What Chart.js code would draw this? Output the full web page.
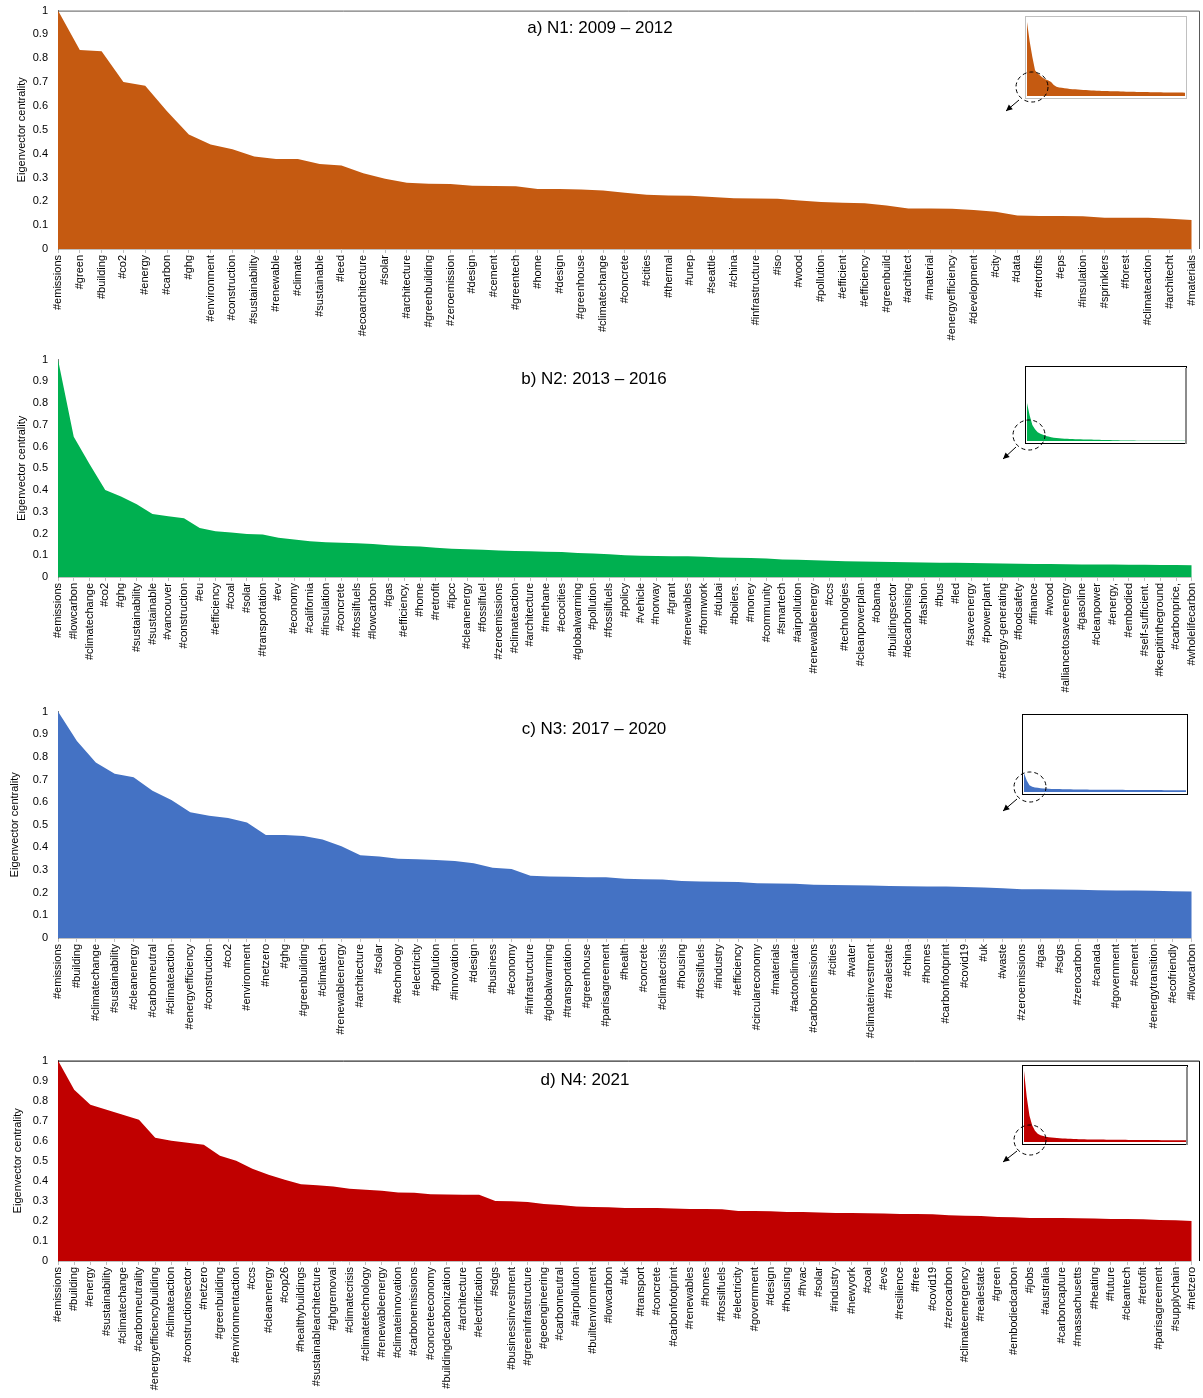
<!DOCTYPE html>
<html><head><meta charset="utf-8">
<script src="https://cdn.jsdelivr.net/npm/chart.js@4"></script>
<style>
body{margin:0;background:#fff;width:1203px;height:1398px;position:relative;overflow:hidden;font-family:'Liberation Sans',Arial,sans-serif}
canvas{position:absolute;left:0}
.t{position:absolute;font-size:17px;color:#000;white-space:nowrap;transform:translate(-50%,-50%)}
</style></head><body>
<canvas id="c1" style="top:-6px" width="1207" height="351"></canvas>
<canvas id="c2" style="top:343px" width="1207" height="362"></canvas>
<canvas id="c3" style="top:695px" width="1207" height="345"></canvas>
<canvas id="c4" style="top:1044px" width="1207" height="354"></canvas>
<canvas id="i1" style="left:1025px;top:16px" width="162" height="83"></canvas>
<canvas id="i2" style="left:1025px;top:366px" width="162" height="78"></canvas>
<canvas id="i3" style="left:1022px;top:714px" width="166" height="81"></canvas>
<canvas id="i4" style="left:1022px;top:1065px" width="166" height="80"></canvas>
<canvas id="ov" style="top:0px" width="1203" height="1398"></canvas>
<div class="t" style="left:600px;top:28px">a) N1: 2009 – 2012</div>
<div class="t" style="left:594px;top:379px">b) N2: 2013 – 2016</div>
<div class="t" style="left:594px;top:729px">c) N3: 2017 – 2020</div>
<div class="t" style="left:585px;top:1080px">d) N4: 2021</div>
<script>
// ---- Data ----
const labelsN1 = ["#emissions","#green","#building","#co2","#energy","#carbon","#ghg","#environment","#construction","#sustainability","#renewable","#climate","#sustainable","#leed","#ecoarchitecture","#solar","#architecture","#greenbuilding","#zeroemission","#design","#cement","#greentech","#home","#design","#greenhouse","#climatechange","#concrete","#cities","#thermal","#unep","#seattle","#china","#infrastructure","#iso","#wood","#pollution","#efficient","#efficiency","#greenbuild","#architect","#material","#energyefficiency","#development","#city","#data","#retrofits","#eps","#insulation","#sprinklers","#forest","#climateaction","#architecht","#materials"];
const valuesN1 = [1.0,0.835,0.83,0.70,0.685,0.578,0.48,0.438,0.418,0.388,0.378,0.377,0.357,0.35,0.318,0.295,0.278,0.274,0.273,0.265,0.264,0.263,0.252,0.252,0.25,0.245,0.236,0.228,0.224,0.223,0.218,0.213,0.212,0.211,0.203,0.197,0.194,0.192,0.182,0.17,0.17,0.169,0.164,0.156,0.14,0.138,0.138,0.137,0.131,0.131,0.131,0.127,0.122];

const labelsN2 = ["#emissions","#lowcarbon","#climatechange","#co2","#ghg","#sustainability","#sustainable","#vancouver","#construction","#eu","#efficiency","#coal","#solar","#transportation","#ev","#economy","#california","#insulation","#concrete","#fossilfuels","#lowcarbon","#gas","#efficiency,","#home","#retrofit","#ipcc","#cleanenergy","#fossilfuel","#zeroemissions","#climateaction","#architecture","#methane","#ecocities","#globalwarming","#pollution","#fossilfuels","#policy","#vehicle","#norway","#grant","#renewables","#formwork","#dubai","#boilers.","#money","#community","#smartech","#airpollution","#renewableenergy","#ccs","#technologies","#cleanpowerplan","#obama","#buildingsector","#decarbonising","#fashion","#bus","#led","#saveenergy","#powerplant","#energy-generating","#foodsafety","#finance","#wood","#alliancetosaveenergy","#gasoline","#cleanpower","#energy,","#embodied","#self-sufficient.","#keepitintheground","#carbonprice,","#wholelifecarbon"];
const valuesN2 = [1.0,0.645,0.52,0.40,0.37,0.335,0.29,0.28,0.27,0.225,0.21,0.205,0.198,0.195,0.18,0.172,0.165,0.16,0.158,0.155,0.152,0.146,0.143,0.14,0.135,0.13,0.128,0.125,0.122,0.12,0.118,0.116,0.115,0.11,0.108,0.105,0.10,0.098,0.097,0.096,0.095,0.093,0.09,0.088,0.087,0.085,0.08,0.079,0.077,0.075,0.072,0.071,0.07,0.069,0.068,0.067,0.066,0.065,0.064,0.063,0.062,0.061,0.06,0.06,0.059,0.058,0.058,0.057,0.056,0.056,0.055,0.055,0.054];

const labelsN3 = ["#emissions","#building","#climatechange","#sustainability","#cleanenergy","#carbonneutral","#climateaction","#energyefficiency","#construction","#co2","#environment","#netzero","#ghg","#greenbuilding","#climatech","#renewableenergy","#architecture","#solar","#technology","#electricity","#pollution","#innovation","#design","#business","#economy","#infrastructure","#globalwarming","#transportation","#greenhouse","#parisagreement","#health","#concrete","#climatecrisis","#housing","#fossilfuels","#industry","#efficiency","#circulareconomy","#materials","#actonclimate","#carbonemissions","#cities","#water","#climateinvestment","#realestate","#china","#homes","#carbonfootprint","#covid19","#uk","#waste","#zeroemissions","#gas","#sdgs","#zerocarbon","#canada","#government","#cement","#energytransition","#ecofriendly","#lowcarbon"];
const valuesN3 = [1.0,0.87,0.775,0.725,0.71,0.65,0.61,0.555,0.54,0.53,0.51,0.455,0.455,0.45,0.435,0.405,0.365,0.36,0.35,0.348,0.345,0.34,0.33,0.31,0.305,0.275,0.272,0.27,0.268,0.268,0.262,0.26,0.258,0.252,0.25,0.248,0.247,0.242,0.241,0.24,0.235,0.234,0.233,0.232,0.23,0.229,0.228,0.227,0.225,0.223,0.22,0.215,0.215,0.214,0.213,0.211,0.21,0.21,0.209,0.207,0.205];

const labelsN4 = ["#emissions","#building","#energy","#sustainability","#climatechange","#carbonneutrality","#energyefficiencybuilding","#climateaction","#constructionsector","#netzero","#greenbuilding","#environmentaction","#ccs","#cleanenergy","#cop26","#healthybuildings","#sustainablearchitecture","#ghgremoval","#climatecrisis","#climatetechnology","#renewableenergy","#climateinnovation","#carbonemissions","#concreteeconomy","#buildingdecarbonization","#architecture","#electrification","#sdgs","#businessinvestment","#greeninfrastructure","#geoengineering","#carbonneutral","#airpollution","#builtenvironment","#lowcarbon","#uk","#transport","#concrete","#carbonfootprint","#renewables","#homes","#fossilfuels","#electricity","#government","#design","#housing","#hvac","#solar","#industry","#newyork","#coal","#evs","#resilience","#free","#covid19","#zerocarbon","#climateemergency","#realestate","#green","#embodiedcarbon","#jobs","#australia","#carboncapture","#massachusetts","#heating","#future","#cleantech","#retrofit","#parisagreement","#supplychain","#netzero"];
const valuesN4 = [1.0,0.855,0.78,0.755,0.73,0.705,0.615,0.60,0.59,0.58,0.525,0.50,0.46,0.43,0.405,0.383,0.378,0.372,0.36,0.355,0.35,0.342,0.34,0.333,0.332,0.33,0.33,0.30,0.298,0.295,0.285,0.28,0.272,0.27,0.268,0.265,0.265,0.264,0.262,0.26,0.26,0.258,0.25,0.25,0.248,0.245,0.245,0.242,0.24,0.24,0.238,0.237,0.235,0.234,0.233,0.228,0.226,0.224,0.22,0.218,0.215,0.215,0.214,0.213,0.212,0.21,0.209,0.208,0.205,0.203,0.2];

const yTicks = [0,0.1,0.2,0.3,0.4,0.5,0.6,0.7,0.8,0.9,1];

// inset full-distribution curves (estimated)
const insetN1 = [0.95,0.7,0.5,0.33,0.29,0.26,0.23,0.21,0.2,0.18,0.14,0.12,0.11,0.105,0.1,0.095,0.09,0.088,0.085,0.082,0.08,0.078,0.076,0.074,0.072,0.07,0.068,0.066,0.065,0.064,0.063,0.062,0.061,0.06,0.06,0.058,0.057,0.056,0.055,0.054,0.053,0.052,0.051,0.05,0.05,0.05,0.049,0.048,0.048,0.047,0.047,0.046,0.046,0.045,0.045,0.045,0.044,0.044,0.044,0.043];
const insetN2 = [0.52,0.35,0.22,0.16,0.12,0.1,0.085,0.07,0.06,0.05,0.045,0.04,0.037,0.034,0.032,0.03,0.028,0.026,0.025,0.024,0.023,0.022,0.021,0.02,0.019,0.018,0.017,0.016,0.015,0.014,0.013,0.012,0.011,0.01,0.009,0.008,0.008,0.007,0.007,0.006,0.006,0.005,0.005,0.005,0.004,0.004,0.004,0.004,0.003,0.003,0.003,0.003,0.003,0.003,0.003,0.003,0.003,0.003,0.003,0.003];
const insetN3 = [0.25,0.15,0.09,0.07,0.06,0.055,0.05,0.047,0.045,0.043,0.041,0.04,0.039,0.038,0.037,0.036,0.035,0.035,0.034,0.034,0.033,0.033,0.032,0.032,0.031,0.031,0.031,0.03,0.03,0.03,0.029,0.029,0.029,0.028,0.028,0.028,0.028,0.027,0.027,0.027,0.027,0.026,0.026,0.026,0.026,0.026,0.025,0.025,0.025,0.025,0.025,0.024,0.024,0.024,0.024,0.024,0.023,0.023,0.023,0.023];
const insetN4 = [0.95,0.6,0.35,0.22,0.15,0.11,0.09,0.08,0.07,0.065,0.06,0.056,0.053,0.05,0.048,0.046,0.044,0.042,0.04,0.039,0.038,0.037,0.036,0.035,0.034,0.034,0.033,0.033,0.032,0.032,0.031,0.031,0.03,0.03,0.03,0.029,0.029,0.029,0.028,0.028,0.028,0.027,0.027,0.027,0.027,0.026,0.026,0.026,0.026,0.026,0.025,0.025,0.025,0.025,0.025,0.025,0.024,0.024,0.024,0.024];

// ---- Charts ----
const FONT = "'Liberation Sans', Arial, sans-serif";
const framePlugin = {
  id: 'frame',
  afterDraw(chart, args, o) {
    if (!o || !o.color) return;
    const {ctx, chartArea: a} = chart;
    ctx.save();
    ctx.strokeStyle = o.color; ctx.lineWidth = 1;
    ctx.beginPath();
    ctx.moveTo(a.left, a.top + 0.5); ctx.lineTo(1199.5, a.top + 0.5);
    ctx.lineTo(1199.5, a.bottom);
    ctx.stroke();
    ctx.restore();
  }
};

function panel(id, labels, values, color, xHeight, frameColor, titlePad) {
  new Chart(document.getElementById(id), {
    type: 'line',
    data: { labels: labels, datasets: [{ data: values, fill: 'origin', backgroundColor: color, borderWidth: 0, pointRadius: 0, tension: 0 }] },
    options: {
      responsive: false, animation: false,
      layout: { padding: { top: 0, right: 8, left: 0, bottom: 0 } },
      plugins: { legend: { display: false }, tooltip: { enabled: false }, frame: { color: frameColor } },
      scales: {
        x: {
          type: 'category', offset: false,
          grid: { drawOnChartArea: false, drawTicks: true, tickLength: 4, color: '#bfbfbf' },
          border: { color: '#bfbfbf' },
          ticks: { autoSkip: false, maxRotation: 90, minRotation: 90, padding: 2, color: '#000', font: { family: FONT, size: 11 } },
          afterFit(s) { s.height = xHeight; }
        },
        y: {
          min: 0, max: 1,
          afterBuildTicks(s) { s.ticks = yTicks.map(v => ({ value: v })); },
          grid: { drawOnChartArea: false, drawTicks: false },
          border: { color: '#7f7f7f' },
          ticks: { padding: 10, color: '#000', font: { family: FONT, size: 11 }, callback: v => String(+v.toFixed(1)) },
          title: { display: true, text: 'Eigenvector centrality', color: '#000', font: { family: FONT, size: 11 }, padding: { top: titlePad, bottom: 0 } },
          afterFit(s) { s.width = 58; }
        }
      }
    },
    plugins: [framePlugin]
  });
}
panel('c1', labelsN1, valuesN1, '#C55A11', 96, '#595959', 15);
panel('c2', labelsN2, valuesN2, '#00B050', 128, null, 15);
panel('c3', labelsN3, valuesN3, '#4472C4', 102, null, 8);
panel('c4', labelsN4, valuesN4, '#C00000', 137, '#000000', 11);

const boxPlugin = {
  id: 'box',
  afterDraw(chart, args, o) {
    const ctx = chart.ctx;
    ctx.save(); ctx.strokeStyle = o.color; ctx.lineWidth = 1;
    ctx.strokeRect(0.5, 0.5, chart.width - 1, chart.height - 1);
    if (o.shadow) {
      ctx.strokeStyle = '#8c8c8c'; ctx.lineWidth = 2;
      ctx.beginPath(); ctx.moveTo(chart.width - 1, 2); ctx.lineTo(chart.width - 1, chart.height); ctx.stroke();
    }
    ctx.restore();
  }
};
function inset(id, values, color, boxColor, shadow) {
  new Chart(document.getElementById(id), {
    type: 'line',
    data: { labels: values.map((v, i) => i), datasets: [{ data: values, fill: 'origin', backgroundColor: color, borderWidth: 0, pointRadius: 0, tension: 0 }] },
    options: {
      responsive: false, animation: false,
      layout: { padding: { top: 2, right: 2, left: 2, bottom: 3 } },
      plugins: { legend: { display: false }, tooltip: { enabled: false }, box: { color: boxColor, shadow: shadow } },
      scales: { x: { display: false, offset: false }, y: { display: false, min: 0, max: 1 } }
    },
    plugins: [boxPlugin]
  });
}
inset('i1', insetN1, '#C55A11', '#c0c0c0', false);
inset('i2', insetN2, '#00B050', '#000', true);
inset('i3', insetN3, '#4472C4', '#000', false);
inset('i4', insetN4, '#C00000', '#000', true);

// ---- dashed circles & arrows (annotations) ----
const ov = document.getElementById('ov').getContext('2d');
function callout(cx, cy, x1, y1, x2, y2) {
  ov.save();
  ov.strokeStyle = '#000'; ov.lineWidth = 1;
  ov.setLineDash([4, 3]);
  ov.beginPath(); ov.ellipse(cx, cy, 16, 15, 0, 0, Math.PI * 2); ov.stroke();
  ov.setLineDash([]);
  ov.beginPath(); ov.moveTo(x1, y1); ov.lineTo(x2, y2); ov.stroke();
  const ang = Math.atan2(y2 - y1, x2 - x1);
  ov.beginPath();
  ov.moveTo(x2, y2);
  ov.lineTo(x2 - 7 * Math.cos(ang - 0.45), y2 - 7 * Math.sin(ang - 0.45));
  ov.lineTo(x2 - 7 * Math.cos(ang + 0.45), y2 - 7 * Math.sin(ang + 0.45));
  ov.closePath(); ov.fillStyle = '#000'; ov.fill();
  ov.restore();
}
callout(1032, 87, 1019, 100, 1006, 111);
callout(1029, 435, 1016, 447, 1003, 459);
callout(1030, 787, 1017, 799, 1003, 811);
callout(1030, 1140, 1017, 1151, 1003, 1162);
</script>
</body></html>
